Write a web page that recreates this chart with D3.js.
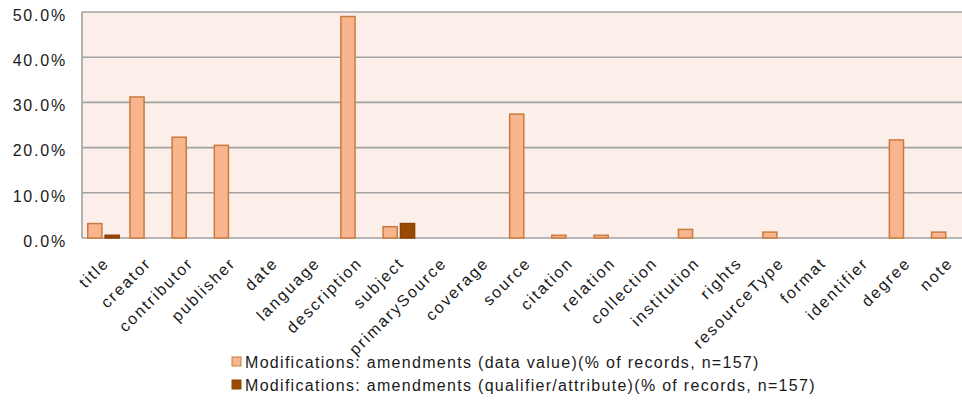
<!DOCTYPE html>
<html>
<head>
<meta charset="utf-8">
<script src="https://cdn.jsdelivr.net/npm/d3@7"></script>
<style>
  html, body { margin: 0; padding: 0; background: #fff; }
  svg { display: block; overflow: hidden; }
  text { font-family: "Liberation Sans", Arial, sans-serif; fill: #1a1a1a; }
</style>
</head>
<body>
<svg id="chart" width="962" height="408"></svg>
<script>
// Metadata elements
const categories = ["title", "creator", "contributor", "publisher", "date", "language",
  "description", "subject", "primarySource", "coverage", "source", "citation", "relation",
  "collection", "institution", "rights", "resourceType", "format", "identifier", "degree", "note"];

// Share of records (%) with amendments to the data value
const dataValue = [3.2, 31.2, 22.3, 20.5, 0, 0, 49.0, 2.5, 0, 0, 27.4, 0.6, 0.6, 0, 1.9, 0, 1.3, 0, 0, 21.7, 1.3];
// Share of records (%) with amendments to the qualifier/attribute
const qualifier = [0.6, 0, 0, 0, 0, 0, 0, 3.2, 0, 0, 0, 0, 0, 0, 0, 0, 0, 0, 0, 0, 0];

const seriesNames = [
  "Modifications: amendments (data value)(% of records, n=157)",
  "Modifications: amendments (qualifier/attribute)(% of records, n=157)"
];
const yTicks = [0, 10, 20, 30, 40, 50];

const fills = ["#f9b58e", "#9a4a02"];
const strokes = ["#c97a3e", "#8a4205"];

const svg = d3.select("#chart");
const plot = { left: 82, top: 12, right: 968, bottom: 238 };

const x0 = d3.scaleBand().domain(categories).range([plot.left, plot.right]).paddingInner(0).paddingOuter(0);
const x1 = d3.scaleBand().domain(d3.range(seriesNames.length)).range([5, 38]).paddingInner(0.1);
const y = d3.scaleLinear().domain([0, 50]).range([plot.bottom, plot.top]);

// plot background
svg.append("rect")
  .attr("x", plot.left).attr("y", plot.top)
  .attr("width", plot.right - plot.left).attr("height", plot.bottom - plot.top)
  .attr("fill", "#fcefea");

// gridlines
svg.append("g").selectAll("line").data(yTicks).join("line")
  .attr("x1", plot.left).attr("x2", plot.right)
  .attr("y1", d => y(d)).attr("y2", d => y(d))
  .attr("stroke", "#a2a2a2").attr("stroke-width", 1.6);

// left frame line
svg.append("line")
  .attr("x1", plot.left).attr("x2", plot.left)
  .attr("y1", plot.top).attr("y2", plot.bottom)
  .attr("stroke", "#a2a2a2").attr("stroke-width", 1.6);

// y tick labels
const yAxis = d3.axisLeft(y).tickValues(yTicks).tickSize(0).tickPadding(0)
  .tickFormat(d => d3.format(".1f")(d) + "%");
const ya = svg.append("g").attr("transform", "translate(67,3)").call(yAxis);
ya.select(".domain").remove();
ya.selectAll("text").style("font-size", "16px").style("letter-spacing", "1.8px")
  .attr("fill", "#1a1a1a")
  .attr("font-family", "'Liberation Sans', Arial, sans-serif").attr("dy", "0.33em");

// bars
const rows = categories.map((c, i) => ({ c, vals: [dataValue[i], qualifier[i]] }));
const groups = svg.append("g").selectAll("g").data(rows).join("g")
  .attr("transform", d => `translate(${x0(d.c)},0)`);
groups.selectAll("rect")
  .data(d => d.vals.map((v, s) => ({ v, s })).filter(e => e.v > 0))
  .join("rect")
  .attr("x", d => x1(d.s) + 0.75)
  .attr("width", x1.bandwidth() - 1.5)
  .attr("y", d => y(d.v))
  .attr("height", d => y(0) - y(d.v))
  .attr("fill", d => fills[d.s])
  .attr("stroke", d => strokes[d.s])
  .attr("stroke-width", 1.5);

// category labels, rotated 45 degrees
const xAxis = d3.axisBottom(x0).tickSize(0).tickPadding(0);
const xa = svg.append("g").attr("transform", `translate(0,${plot.bottom})`).call(xAxis);
xa.select(".domain").remove();
xa.selectAll("text")
  .style("font-size", "16px").style("letter-spacing", "2px")
  .attr("fill", "#1a1a1a")
  .attr("font-family", "'Liberation Sans', Arial, sans-serif")
  .attr("text-anchor", "end")
  .attr("y", 0).attr("dy", 0)
  .attr("transform", "translate(7,26) rotate(-45)");

// legend
const legend = svg.append("g").attr("transform", "translate(232,357)");
const li = legend.selectAll("g").data(seriesNames).join("g")
  .attr("transform", (d, i) => `translate(0,${i * 23})`);
li.append("rect").attr("width", 9).attr("height", 9)
  .attr("fill", (d, i) => fills[i]).attr("stroke", (d, i) => strokes[i]).attr("stroke-width", 1);
li.append("text").attr("x", 13).attr("y", 10.5)
  .style("font-size", "16px").style("letter-spacing", "1.3px").text(d => d);
</script>
</body>
</html>
